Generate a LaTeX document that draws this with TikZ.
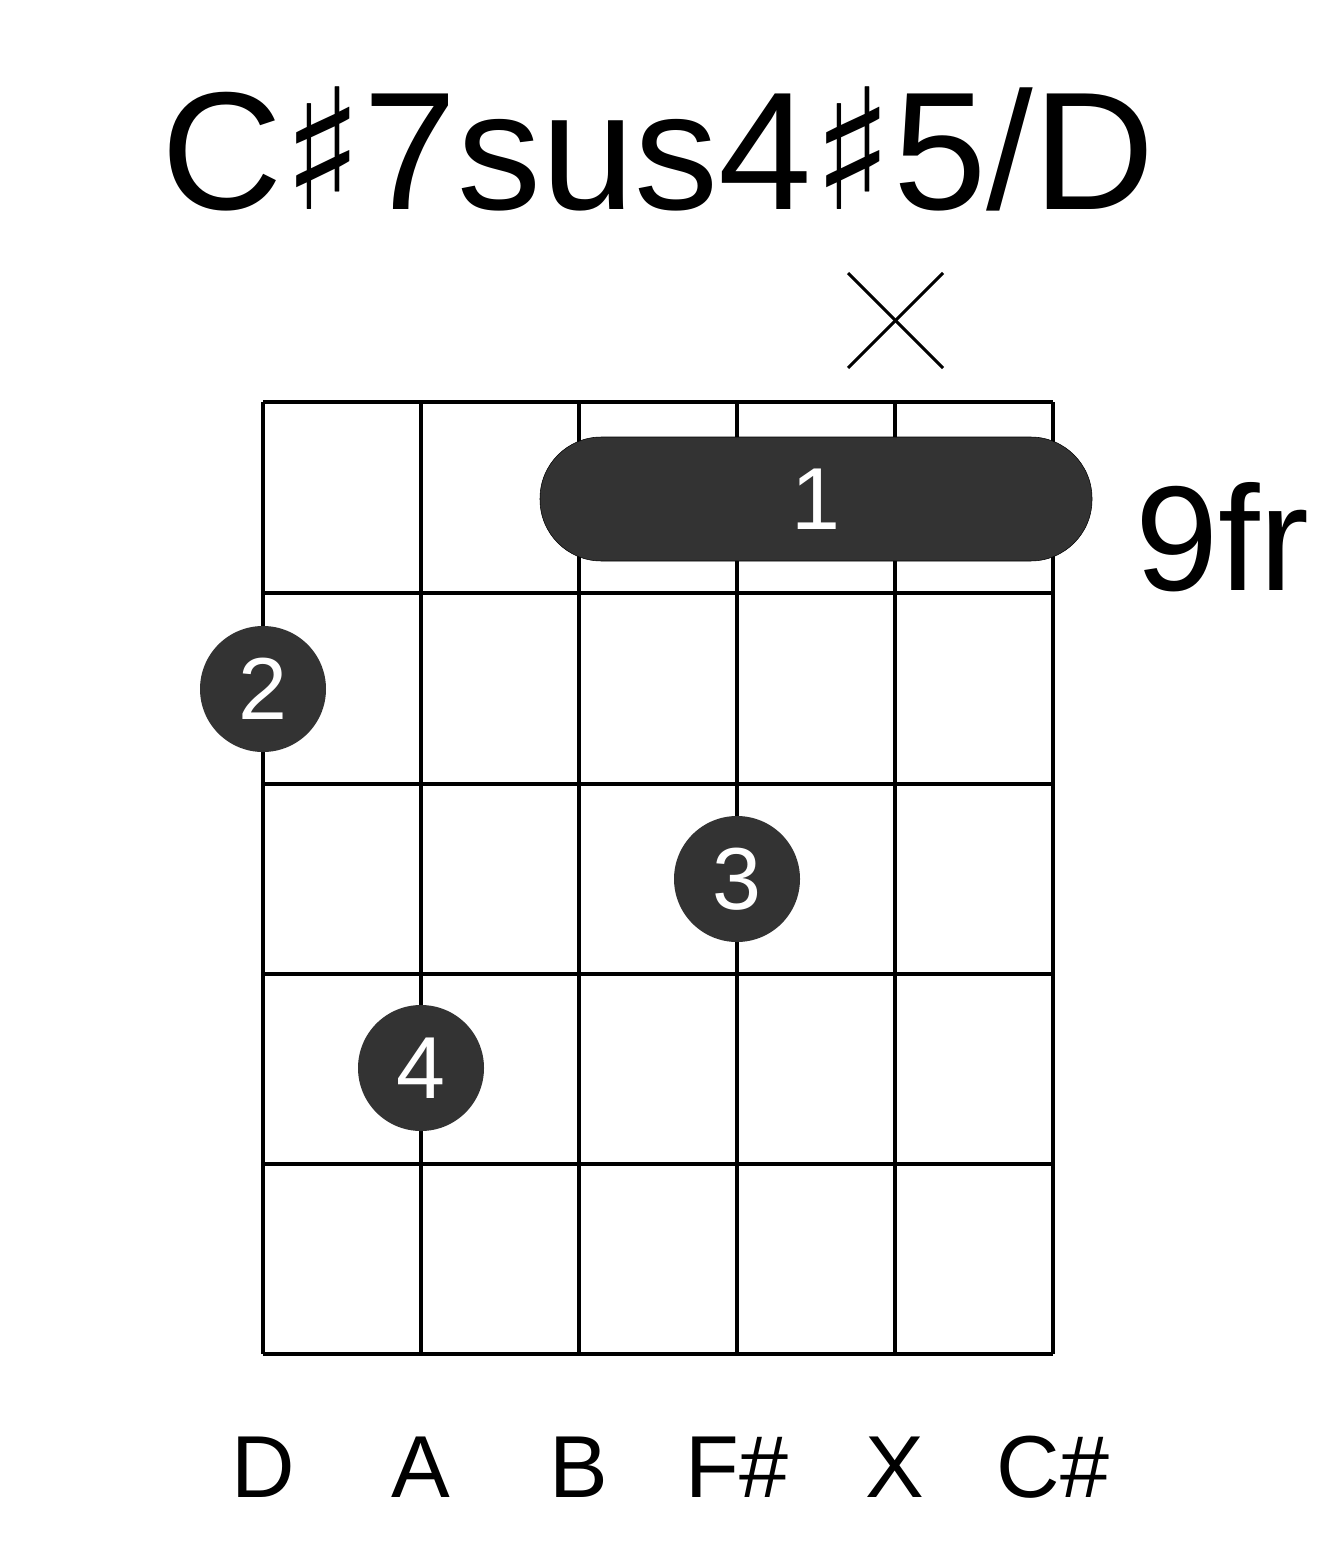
\documentclass[tikz,border=0pt]{standalone}
\usepackage{fontspec}
\setmainfont{Liberation Sans}
\newfontfamily\symfont{DejaVu Sans}
\definecolor{dotgray}{HTML}{333333}
\tikzset{
  fing/.style = {circle, fill = dotgray, minimum size = 94.5pt, inner sep = 0pt, text = white, font = \fontsize{66}{66}\selectfont},
  strlab/.style = {anchor = base, font = \fontsize{66}{66}\selectfont}
}
\begin{document}
\begin{tikzpicture}[x = 0.75pt, y = -0.75pt]
\useasboundingbox (0, 0) rectangle (1317, 1551);
%% grid
\foreach \s in {263, 421, 579, 737, 895, 1053}
  \draw [line width = 3pt] (\s, 402) to (\s, 1354);
\foreach \f in {402, 593, 784, 974, 1164, 1354}
  \draw [line width = 3pt] (263, \f) to (1053, \f);
%% title and fret number
\node [anchor = base] (title) at (658, 210) {\fontsize{126}{126}\selectfont C{\symfont ♯}7sus4{\symfont ♯}5/D};
\node [anchor = base west, inner sep = 0pt] (fret) at (1135, 590) {\fontsize{112}{112}\selectfont 9fr};
%% muted string
\draw [line width = 2.2pt] (848, 273) to (943, 368);
\draw [line width = 2.2pt] (848, 368) to (943, 273);
%% barre and fingers
\draw [fill = dotgray, rounded corners = 46pt] (540, 437) rectangle (1092, 561);
\node [text = white, font = \fontsize{66}{66}\selectfont] (barre) at (816, 499) {1};
\node [fing] (two) at (263, 689) {2};
\node [fing] (three) at (737, 879) {3};
\node [fing] (four) at (421, 1068) {4};
%% string names
\node [strlab] (sD) at (263, 1497) {D};
\node [strlab] (sA) at (421, 1497) {A};
\node [strlab] (sB) at (579, 1497) {B};
\node [strlab] (sF) at (737, 1497) {F\#};
\node [strlab] (sX) at (895, 1497) {X};
\node [strlab] (sC) at (1053, 1497) {C\#};
\end{tikzpicture}
\end{document}
